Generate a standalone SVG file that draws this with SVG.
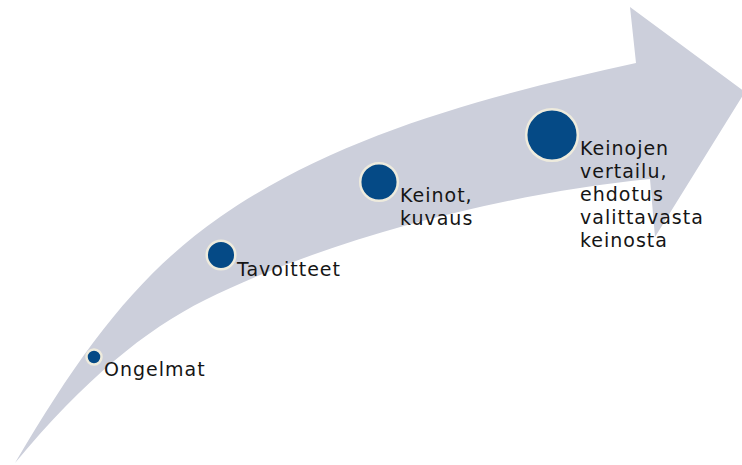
<svg xmlns="http://www.w3.org/2000/svg" width="742" height="465" viewBox="0 0 742 465">
<style>
.arrow{fill:#CCCFDB;stroke:none}
.dot{fill:#054A86;stroke:#EEEBDD;stroke-width:2.5}
.lbl{font-family:"DejaVu Sans","Liberation Sans",sans-serif;font-size:19px;letter-spacing:1px;fill:#151515}
</style>
<g id="connectors">
<path id="arrow" class="arrow" d="M15,463 C85,379 145,330 205,300 C325,240 500,194 650,179 L655,237 L745,92 L630,7 L636,63 C496,93.8 340,133 220,217 C140,273 85,344 15,463 Z"/>
</g>
<g id="ongelmat">
<circle class="dot" cx="94" cy="357" r="7.5"/>
<text class="lbl" x="104" y="376">Ongelmat</text>
</g>
<g id="tavoitteet">
<circle class="dot" cx="221" cy="255" r="14.3"/>
<text class="lbl" x="237" y="276">Tavoitteet</text>
</g>
<g id="keinot">
<circle class="dot" cx="379" cy="182" r="18.8"/>
<text class="lbl" x="400" y="202">Keinot,</text>
<text class="lbl" x="400" y="225">kuvaus</text>
</g>
<g id="keinojen">
<circle class="dot" cx="552" cy="135" r="25.8"/>
<text class="lbl" x="580" y="155">Keinojen</text>
<text class="lbl" x="580" y="178">vertailu,</text>
<text class="lbl" x="580" y="201">ehdotus</text>
<text class="lbl" x="580" y="224">valittavasta</text>
<text class="lbl" x="580" y="247">keinosta</text>
</g>
</svg>
